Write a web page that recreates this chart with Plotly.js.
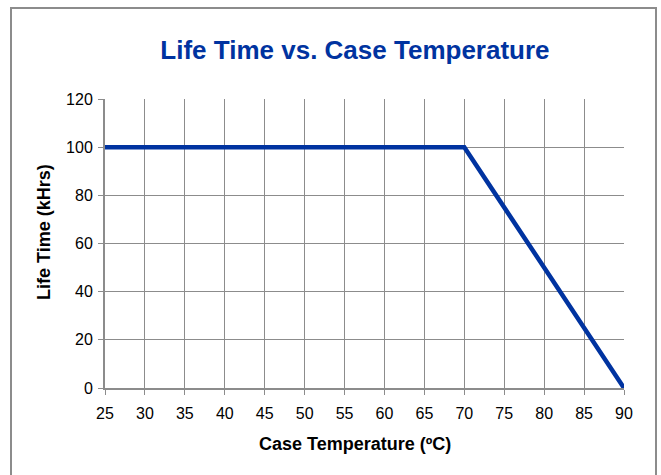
<!DOCTYPE html>
<html>
<head>
<meta charset="utf-8">
<script src="https://cdn.plot.ly/plotly-3.0.1.min.js"></script>
<style>
  html, body { margin: 0; padding: 0; background: #fff; }
  #frame { position: absolute; left: 10px; top: 7px; width: 647px; height: 475px; border: 2px solid #8c8c8c; box-sizing: border-box; }
  #chart { position: absolute; left: 0; top: 0; width: 661px; height: 475px; }
</style>
</head>
<body>
<div id="frame"></div>
<div id="chart"></div>
<script>
const temperature = [25, 70, 90];
const lifeTime = [100, 100, 0];
const xTicks = [25, 30, 35, 40, 45, 50, 55, 60, 65, 70, 75, 80, 85, 90];
const yTicks = [0, 20, 40, 60, 80, 100, 120];
const xTitle = 'Case Temperature (ºC)';
const yTitle = 'Life Time (kHrs)';

const FONT = 'Liberation Sans, Arial, sans-serif';

const trace = {
  x: temperature,
  y: lifeTime,
  type: 'scatter',
  mode: 'lines',
  line: { color: '#0033a0', width: 4.5 },
  hoverinfo: 'skip'
};

const layout = {
  width: 661,
  height: 475,
  paper_bgcolor: 'rgba(0,0,0,0)',
  plot_bgcolor: 'rgba(0,0,0,0)',
  margin: { l: 105, r: 37, t: 99, b: 87 },
  showlegend: false,
  title: {
    text: 'Life Time vs. Case Temperature',
    font: { family: FONT, size: 26, color: '#0033a0', weight: 'bold' },
    x: 0.537, xanchor: 'center',
    y: 0.895, yanchor: 'middle'
  },
  xaxis: {
    range: [25, 90],
    tickvals: xTicks,
    ticktext: xTicks.map(String),
    showgrid: true, gridcolor: '#8c8c8c', gridwidth: 1,
    showline: true, linecolor: '#8c8c8c', linewidth: 2,
    ticks: 'outside', ticklen: 5, tickcolor: '#8c8c8c', tickwidth: 1,
    ticklabelstandoff: 5,
    zeroline: false,
    tickfont: { family: FONT, size: 16, color: '#000' }
  },
  yaxis: {
    range: [0, 120],
    tickvals: yTicks,
    ticktext: yTicks.map(String),
    showgrid: true, gridcolor: '#8c8c8c', gridwidth: 1,
    showline: true, linecolor: '#8c8c8c', linewidth: 2,
    ticks: 'outside', ticklen: 5, tickcolor: '#8c8c8c', tickwidth: 1,
    ticklabelstandoff: 2,
    zeroline: false,
    tickfont: { family: FONT, size: 16, color: '#000' }
  },
  annotations: [
    { text: xTitle, xref: 'paper', yref: 'paper', x: 0.4817, y: -0.193,
      xanchor: 'center', yanchor: 'middle', showarrow: false,
      font: { family: FONT, size: 18, color: '#000', weight: 'bold' } },
    { text: yTitle, xref: 'paper', yref: 'paper', x: -0.119, y: 0.541,
      xanchor: 'center', yanchor: 'middle', showarrow: false, textangle: -90,
      font: { family: FONT, size: 18, color: '#000', weight: 'bold' } }
  ]
};

Plotly.newPlot('chart', [trace], layout, { displayModeBar: false, staticPlot: true });
</script>
</body>
</html>
